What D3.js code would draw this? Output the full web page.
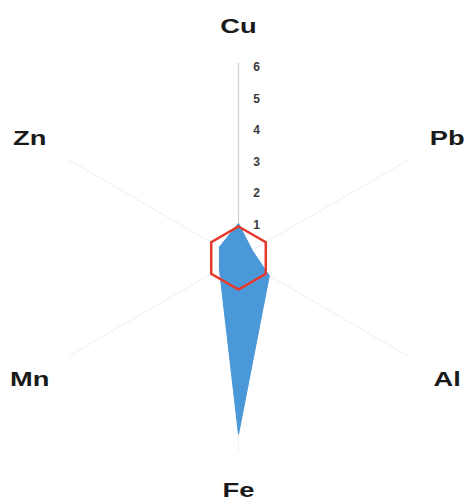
<!DOCTYPE html>
<html>
<head>
<meta charset="utf-8">
<script src="https://cdn.jsdelivr.net/npm/d3@7"></script>
<style>
  html, body { margin: 0; padding: 0; background: #ffffff; }
  svg { display: block; }
</style>
</head>
<body>
<svg id="chart" width="465" height="504"></svg>
<script>
// Element axes, clockwise from the top
const elements = ["Cu", "Pb", "Al", "Fe", "Mn", "Zn"];
// Measured values per element
const values = [1.1, 0.5, 1.13, 5.6, 0.7, 0.7];
// Radial tick labels along the Cu axis
const tickValues = [1, 2, 3, 4, 5, 6];
// Reference level drawn as the red hexagon
const referenceLevel = [1, 1, 1, 1, 1, 1];

const width = 465, height = 504;
const cx = 238.5, cy = 258;

const svg = d3.select("#chart");
const g = svg.append("g").attr("transform", `translate(${cx},${cy})`);

const r = d3.scaleLinear().domain([0, 6]).range([0, 189]);
const angle = d3.scalePoint().domain(elements).range([0, 2 * Math.PI * (elements.length - 1) / elements.length]);

const px = (a, rad) => rad * Math.sin(a);
const py = (a, rad) => -rad * Math.cos(a);

// Spokes: the Cu axis carries the scale, the others are barely visible
g.selectAll("line.spoke")
  .data(elements)
  .join("line")
  .attr("class", "spoke")
  .attr("x1", 0).attr("y1", 0)
  .attr("x2", d => px(angle(d), r(6.2)))
  .attr("y2", d => py(angle(d), r(6.2)))
  .attr("stroke", (d, i) => i === 0 ? "#cfcfcf" : "#f2f2f2")
  .attr("stroke-width", 1.2);

const radial = d3.lineRadial()
  .angle((d, i) => angle(elements[i]))
  .radius(d => r(d))
  .curve(d3.curveLinearClosed);

// Data polygon
g.append("path")
  .datum(values)
  .attr("d", radial)
  .attr("fill", "#4a98d8")
  .attr("stroke", "#4a98d8")
  .attr("stroke-width", 1);

// Reference hexagon
g.append("path")
  .datum(referenceLevel)
  .attr("d", radial)
  .attr("fill", "none")
  .attr("stroke", "#e8382c")
  .attr("stroke-width", 2.5)
  .attr("stroke-linejoin", "miter");

// Tick labels
g.selectAll("text.tick")
  .data(tickValues)
  .join("text")
  .attr("class", "tick")
  .attr("x", 18)
  .attr("y", d => -r(d) - 2)
  .attr("text-anchor", "middle")
  .attr("dominant-baseline", "central")
  .attr("font-family", "Liberation Sans, Arial, sans-serif")
  .attr("font-weight", "bold")
  .attr("font-size", 12)
  .attr("fill", "#3a3a3a")
  .text(d => d);

// Axis labels: top/bottom sit a little closer than the side ones
const labelRadius = i => (i === 0 || i === 3) ? 232 : 241;
g.selectAll("text.axis-label")
  .data(elements)
  .join("text")
  .attr("class", "axis-label")
  .attr("transform", (d, i) => {
    const a = angle(d);
    const x = px(a, labelRadius(i));
    const y = py(a, labelRadius(i));
    return `translate(${x},${y}) scale(1.3,1)`;
  })
  .attr("text-anchor", "middle")
  .attr("dominant-baseline", "central")
  .attr("font-family", "Liberation Sans, Arial, sans-serif")
  .attr("font-weight", "bold")
  .attr("font-size", 21)
  .attr("fill", "#1a1a1a")
  .text(d => d);
</script>
</body>
</html>
